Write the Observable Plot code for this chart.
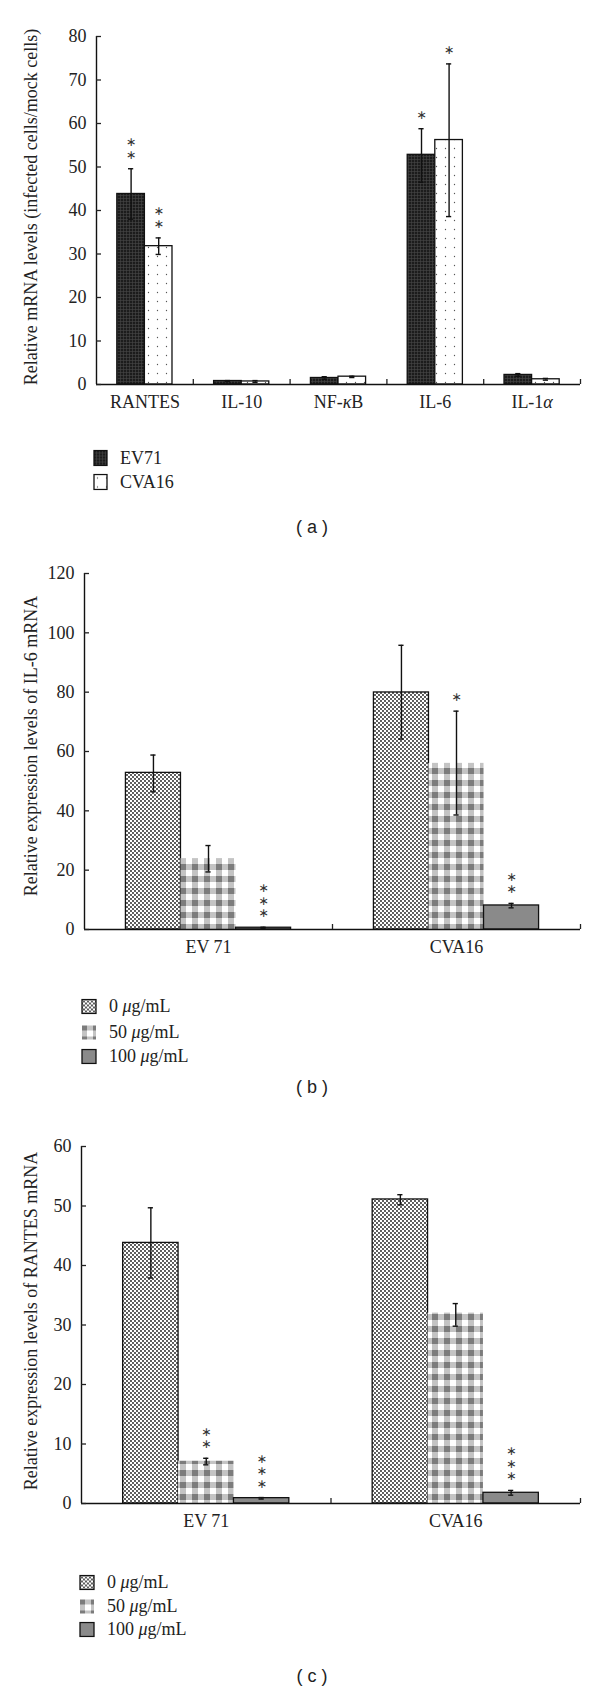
<!DOCTYPE html>
<html><head><meta charset="utf-8">
<script src="https://cdn.jsdelivr.net/npm/d3@7"></script>
<script src="https://cdn.jsdelivr.net/npm/@observablehq/plot@0.6"></script>
<style>
body{margin:0;background:#fff;}
#page{position:relative;width:600px;height:1690px;background:#fff;overflow:hidden;}
.ylab{position:absolute;transform:translate(-50%,-50%) rotate(-90deg);white-space:nowrap;font-family:"Liberation Serif",serif;font-size:18px;color:#222;}
.leg{position:absolute;display:flex;align-items:center;font-family:"Liberation Serif",serif;font-size:18px;color:#222;white-space:nowrap;transform:translateY(-50%);}
.leg svg{margin-right:12px;}
.leg span{white-space:pre;}
.cap{position:absolute;transform:translate(-50%,-50%);font-family:"Liberation Sans",Arial,sans-serif;font-size:18px;color:#222;white-space:pre;}
</style></head><body>
<svg width="0" height="0" style="position:absolute">
<defs>
<pattern id="pDark" width="3" height="3" patternUnits="userSpaceOnUse">
 <rect width="3" height="3" fill="#1c1c1c"/>
 <rect width="3" height="0.6" fill="#474747"/>
 <rect width="0.6" height="3" fill="#474747"/>
</pattern>
<pattern id="pSparse" width="9" height="9" patternUnits="userSpaceOnUse">
 <rect width="9" height="9" fill="#fff"/>
 <circle cx="4.5" cy="4.5" r="0.65" fill="#555"/>
</pattern>
<pattern id="pDense" width="4" height="4" patternUnits="userSpaceOnUse">
 <rect width="4" height="4" fill="#fff"/>
 <circle cx="1" cy="1" r="0.9" fill="#111"/>
 <circle cx="3" cy="3" r="0.9" fill="#111"/>
</pattern>
<pattern id="pCheck" width="12" height="12" patternUnits="userSpaceOnUse">
 <rect width="12" height="12" fill="#fff"/>
 <rect x="0" y="0" width="6" height="12" fill="#c4c4c4"/>
 <rect x="0" y="0" width="12" height="6" fill="#c4c4c4"/>
 <rect x="0" y="0" width="6" height="6" fill="#7c7c7c"/>
</pattern>
</defs></svg>
<div id="page"></div>
<script>
// ---------- Panel (a) data ----------
const aCategories = ["RANTES", "IL-10", "NF-κB", "IL-6", "IL-1α"];
const aSeries = ["EV71", "CVA16"];
const aEV71 = [43.8, 0.8, 1.5, 52.8, 2.2];
const aEV71Lo = [38.0, 0.7, 1.2, 46.5, 1.9];
const aEV71Hi = [49.6, 0.9, 1.8, 58.8, 2.5];
const aEV71Stars = ["**", "", "", "*", ""];
const aCVA16 = [31.8, 0.7, 1.8, 56.2, 1.2];
const aCVA16Lo = [29.9, 0.5, 1.6, 38.6, 1.0];
const aCVA16Hi = [33.7, 0.9, 1.9, 73.7, 1.4];
const aCVA16Stars = ["**", "", "", "*", ""];
const aYTicks = [0, 10, 20, 30, 40, 50, 60, 70, 80];

// ---------- Panels (b) and (c) shared ----------
const virusCategories = ["EV 71", "CVA16"];
const doseLabels = ["0 μg/mL", "50 μg/mL", "100 μg/mL"];

// ---------- Panel (b) data: IL-6 ----------
const bDose0 = [52.8, 79.9];
const bDose0Lo = [46.4, 64.2];
const bDose0Hi = [58.8, 95.8];
const bDose0Stars = ["", ""];
const bDose50 = [23.9, 56.0];
const bDose50Lo = [19.4, 38.6];
const bDose50Hi = [28.3, 73.6];
const bDose50Stars = ["", "*"];
const bDose100 = [0.6, 8.1];
const bDose100Lo = [0.45, 7.3];
const bDose100Hi = [0.75, 8.8];
const bDose100Stars = ["***", "**"];
const bYTicks = [0, 20, 40, 60, 80, 100, 120];

// ---------- Panel (c) data: RANTES ----------
const cDose0 = [43.8, 51.1];
const cDose0Lo = [37.9, 50.2];
const cDose0Hi = [49.7, 51.9];
const cDose0Stars = ["", ""];
const cDose50 = [7.1, 32.0];
const cDose50Lo = [6.5, 29.8];
const cDose50Hi = [7.6, 33.6];
const cDose50Stars = ["**", ""];
const cDose100 = [0.9, 1.8];
const cDose100Lo = [0.75, 1.4];
const cDose100Hi = [1.0, 2.2];
const cDose100Stars = ["***", "***"];
const cYTicks = [0, 10, 20, 30, 40, 50, 60];

const page = document.getElementById("page");
const SERIF = "'Liberation Serif', 'Times New Roman', serif";

function italicize(svg) {
  const ns = "http://www.w3.org/2000/svg";
  svg.querySelectorAll("text").forEach(t => {
    if (t.querySelector("tspan")) return;
    const s = t.textContent;
    if (!/[κα]/.test(s)) return;
    t.textContent = "";
    s.split(/([κα])/).forEach(part => {
      if (!part) return;
      const ts = document.createElementNS(ns, "tspan");
      ts.textContent = part;
      if (/[κα]/.test(part)) ts.setAttribute("font-style", "italic");
      t.appendChild(ts);
    });
  });
}

function panel(cfg) {
  const N = cfg.cats.length, S = cfg.series.length;
  const rows = [];
  cfg.series.forEach((s, k) => cfg.cats.forEach((c, i) => {
    const x1 = i + 0.5 + (k - S / 2) * cfg.barW;
    rows.push({i, k, x1, x2: x1 + cfg.barW, xc: x1 + cfg.barW / 2,
      v: s.values[i], lo: s.lo[i], hi: s.hi[i], stars: s.stars[i] || ""});
  }));
  const plotW = 600 - cfg.ml - cfg.mr;
  const cap = 2.6 / (plotW / N);
  const marks = [];
  cfg.series.forEach((s, k) => {
    marks.push(Plot.rectY(rows.filter(d => d.k === k), {
      x1: "x1", x2: "x2", y1: 0, y2: "v",
      fill: s.fill, stroke: s.stroke, strokeWidth: 1.3
    }));
  });
  marks.push(Plot.ruleX(rows, {x: "xc", y1: "lo", y2: "hi", stroke: "#111", strokeWidth: 1.4}));
  marks.push(Plot.ruleY(rows, {y: "hi", x1: d => d.xc - cap, x2: d => d.xc + cap, stroke: "#111", strokeWidth: 1.4}));
  marks.push(Plot.ruleY(rows, {y: "lo", x1: d => d.xc - cap, x2: d => d.xc + cap, stroke: "#111", strokeWidth: 1.4}));
  marks.push(Plot.text(rows.filter(d => d.stars), {
    x: "xc", y: "hi", text: d => Array.from(d.stars).map(() => "∗").join("\n"),
    lineAnchor: "bottom", dy: -10, fontSize: 12.5, lineHeight: 1.0,
    fontFamily: "DejaVu Sans", fill: "#333"
  }));
  marks.push(Plot.ruleX([0], {stroke: "#111", strokeWidth: 1.4}));
  marks.push(Plot.ruleY([0], {stroke: "#111", strokeWidth: 1.4}));
  marks.push(Plot.axisY({ticks: cfg.yTicks, tickSize: -5, tickPadding: 15, label: null, fontSize: 18, strokeWidth: 1.3}));
  marks.push(Plot.axisX({ticks: d3.range(N).map(i => i + 0.5), tickSize: 0, tickPadding: 11,
    tickFormat: d => cfg.cats[Math.round(d - 0.5)], label: null, fontSize: 18}));
  marks.push(Plot.axisX({ticks: d3.range(1, N + 1), tickSize: -5, tickFormat: () => "", label: null, strokeWidth: 1.3}));
  const svg = Plot.plot({
    width: 600, height: cfg.height,
    marginTop: cfg.mt, marginBottom: cfg.mb, marginLeft: cfg.ml, marginRight: cfg.mr,
    x: {domain: [0, N]},
    y: {domain: [0, cfg.yMax]},
    style: {fontFamily: SERIF, fontSize: "18px", color: "#222", background: "transparent", overflow: "visible"},
    marks
  });
  italicize(svg);
  svg.style.position = "absolute";
  svg.style.left = "0px";
  svg.style.top = cfg.top + "px";
  page.appendChild(svg);
}

function addYLabel(text, x, y) {
  const d = document.createElement("div");
  d.className = "ylab"; d.textContent = text;
  d.style.left = x + "px"; d.style.top = y + "px";
  page.appendChild(d);
}
function addLegend(items, x, ys, w, h) {
  items.forEach((it, j) => {
    const d = document.createElement("div");
    d.className = "leg";
    d.style.left = x + "px"; d.style.top = ys[j] + "px";
    const stroke = it.stroke === "none" ? "" : `stroke="#111" stroke-width="1.3"`;
    d.innerHTML = `<svg width="${w + 2}" height="${h + 2}"><rect x="1" y="1" width="${w}" height="${h}" fill="${it.fill}" ${stroke}/></svg>` +
      `<span>${it.label.replace("μ", "<i>μ</i>")}</span>`;
    page.appendChild(d);
  });
}
function addCaption(text, x, y) {
  const d = document.createElement("div");
  d.className = "cap"; d.textContent = text;
  d.style.left = x + "px"; d.style.top = y + "px";
  page.appendChild(d);
}

// Panel (a)
panel({
  cats: aCategories, yMax: 80, yTicks: aYTicks, barW: 0.285,
  top: 0, height: 424, mt: 36, mb: 40, ml: 96, mr: 20,
  series: [
    {values: aEV71, lo: aEV71Lo, hi: aEV71Hi, stars: aEV71Stars, fill: "url(#pDark)", stroke: "#111"},
    {values: aCVA16, lo: aCVA16Lo, hi: aCVA16Hi, stars: aCVA16Stars, fill: "url(#pSparse)", stroke: "#111"}
  ]
});
// Panel (b)
panel({
  cats: virusCategories, yMax: 120, yTicks: bYTicks, barW: 0.222,
  top: 540, height: 429, mt: 33, mb: 40, ml: 84, mr: 20,
  series: [
    {values: bDose0, lo: bDose0Lo, hi: bDose0Hi, stars: bDose0Stars, fill: "url(#pDense)", stroke: "#111"},
    {values: bDose50, lo: bDose50Lo, hi: bDose50Hi, stars: bDose50Stars, fill: "url(#pCheck)", stroke: "none"},
    {values: bDose100, lo: bDose100Lo, hi: bDose100Hi, stars: bDose100Stars, fill: "#8a8a8a", stroke: "#111"}
  ]
});
// Panel (c)
panel({
  cats: virusCategories, yMax: 60, yTicks: cYTicks, barW: 0.222,
  top: 1110, height: 433, mt: 36, mb: 40, ml: 81, mr: 20,
  series: [
    {values: cDose0, lo: cDose0Lo, hi: cDose0Hi, stars: cDose0Stars, fill: "url(#pDense)", stroke: "#111"},
    {values: cDose50, lo: cDose50Lo, hi: cDose50Hi, stars: cDose50Stars, fill: "url(#pCheck)", stroke: "none"},
    {values: cDose100, lo: cDose100Lo, hi: cDose100Hi, stars: cDose100Stars, fill: "#8a8a8a", stroke: "#111"}
  ]
});

addYLabel("Relative mRNA levels (infected cells/mock cells)", 31, 207);
addYLabel("Relative expression levels of IL-6 mRNA", 31, 746);
addYLabel("Relative expression levels of RANTES mRNA", 31, 1321);

addLegend([
  {label: aSeries[0], fill: "url(#pDark)"},
  {label: aSeries[1], fill: "url(#pSparse)"}
], 93, [458, 482], 13, 15);
addLegend([
  {label: doseLabels[0], fill: "url(#pDense)"},
  {label: doseLabels[1], fill: "url(#pCheck)", stroke: "none"},
  {label: doseLabels[2], fill: "#8a8a8a"}
], 81, [1006, 1032, 1056], 14, 14);
addLegend([
  {label: doseLabels[0], fill: "url(#pDense)"},
  {label: doseLabels[1], fill: "url(#pCheck)", stroke: "none"},
  {label: doseLabels[2], fill: "#8a8a8a"}
], 79, [1582, 1606, 1629], 14, 14);

addCaption("( a )", 312, 527);
addCaption("( b )", 312, 1087);
addCaption("( c )", 312, 1676);
</script>
</body></html>
